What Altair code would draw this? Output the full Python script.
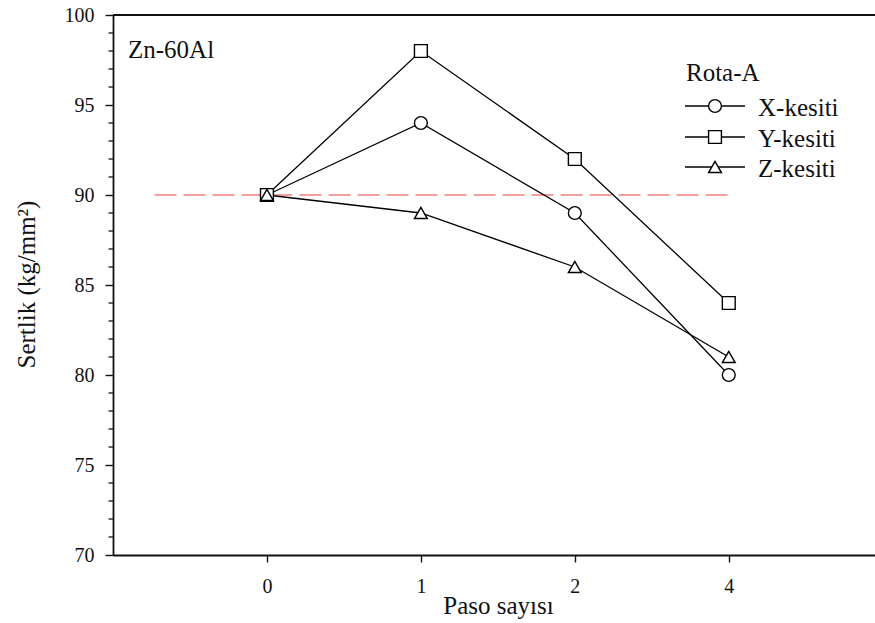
import altair as alt
import pandas as pd

# ---- data ----
passes = ["0", "1", "2", "4"]
pass_pos = [0, 1, 2, 3]
x_kesiti = [90, 94, 89, 80]
y_kesiti = [90, 98, 92, 84]
z_kesiti = [90, 89, 86, 81]
series = ["X-kesiti", "Y-kesiti", "Z-kesiti"]
shapes = ["circle", "square", "triangle-up"]
ref_x = [-0.73, 3.02]
ref_y = [90, 90]
y_major = [70, 75, 80, 85, 90, 95, 100]
y_minor = [v for v in range(70, 101) if v % 5 != 0]

rows = []
for name, vals in zip(series, [x_kesiti, y_kesiti, z_kesiti]):
    for p, lab, v in zip(pass_pos, passes, vals):
        rows.append({"series": name, "pos": p, "pass": lab, "value": v})
df = pd.DataFrame(rows)
ref_df = pd.DataFrame({"pos": ref_x, "value": ref_y})
minor_df = pd.DataFrame({"value": y_minor})

W, H = 762, 540
FONT = "Liberation Serif, Times New Roman, Times, serif"
INK = "#111111"
MSIZE = 165

label_expr = ""
for p, lab in zip(pass_pos, passes):
    label_expr += f"datum.value == {p} ? '{lab}' : "
label_expr += "''"

x_enc = alt.X(
    "pos:Q",
    scale=alt.Scale(domain=[-1, 3.95], nice=False, zero=False),
    axis=alt.Axis(
        values=pass_pos, labelExpr=label_expr, title="Paso sayısı",
        tickSize=7, labelPadding=30, labelBaseline="alphabetic",
        titleX=385, titleY=58, titleBaseline="alphabetic",
    ),
)
y_enc = alt.Y(
    "value:Q",
    scale=alt.Scale(domain=[70, 100], nice=False, zero=False),
    axis=alt.Axis(
        values=y_major, title="Sertlik (kg/mm²)",
        tickSize=8, labelPadding=11,
        titleX=-79, titleY=269, titleBaseline="alphabetic", titleAngle=-90,
    ),
)

ref = alt.Chart(ref_df).mark_line(
    color="#F08080", strokeWidth=1.5, strokeDash=[22, 7]
).encode(x=x_enc, y=y_enc)

minor = alt.Chart(minor_df).mark_rule(color=INK, strokeWidth=1.3).encode(
    x=alt.value(-4.5), x2=alt.value(0), y="value:Q"
)

lines = alt.Chart(df).mark_line(color="black", strokeWidth=1.3).encode(
    x="pos:Q", y="value:Q", detail="series:N"
)
points = alt.Chart(df).mark_point(
    fill="white", stroke="black", strokeWidth=1.4, opacity=1, size=MSIZE
).encode(
    x="pos:Q", y="value:Q",
    shape=alt.Shape("series:N", scale=alt.Scale(domain=series, range=shapes), legend=None),
)

one = pd.DataFrame({"a": [0]})
top_rule = alt.Chart(one).mark_rule(color=INK, strokeWidth=1.8).encode(
    x=alt.value(0), x2=alt.value(W), y=alt.value(0)
)
label_zn = alt.Chart(one).mark_text(
    text="Zn-60Al", font=FONT, fontSize=25, align="left", baseline="alphabetic", color=INK
).encode(x=alt.value(15), y=alt.value(43))
leg_title = alt.Chart(one).mark_text(
    text="Rota-A", font=FONT, fontSize=25, align="left", baseline="alphabetic", color=INK
).encode(x=alt.value(573), y=alt.value(66))

legend_layers = []
row_y = [91, 122, 152]
for name, shp, ry in zip(series, shapes, row_y):
    d = pd.DataFrame({"series": [name]})
    legend_layers.append(
        alt.Chart(d).mark_rule(color="black", strokeWidth=1.3).encode(
            x=alt.value(572), x2=alt.value(632), y=alt.value(ry)
        )
    )
    legend_layers.append(
        alt.Chart(d).mark_point(
            shape=shp, fill="white", stroke="black", strokeWidth=1.4, opacity=1, size=MSIZE
        ).encode(x=alt.value(602), y=alt.value(ry))
    )
    legend_layers.append(
        alt.Chart(d).mark_text(
            font=FONT, fontSize=25, align="left", baseline="alphabetic", color=INK
        ).encode(text="series:N", x=alt.value(645), y=alt.value(ry + 10))
    )

chart = alt.layer(
    ref, minor, lines, points, top_rule, label_zn, leg_title, *legend_layers
).properties(
    width=W, height=H,
    autosize=alt.AutoSizeParams(type="none"),
    padding={"left": 113, "top": 15, "right": 0, "bottom": 68},
).configure_view(stroke=None).configure_axis(
    labelFont=FONT, titleFont=FONT, labelFontSize=20, titleFontSize=25,
    titleFontWeight="normal", labelColor=INK, titleColor=INK,
    grid=False, labelOverlap=False, tickColor=INK, tickWidth=1.4,
    domainColor=INK, domainWidth=1.8,
)

chart.save("out.html", embed_options={"renderer": "svg", "actions": False})
